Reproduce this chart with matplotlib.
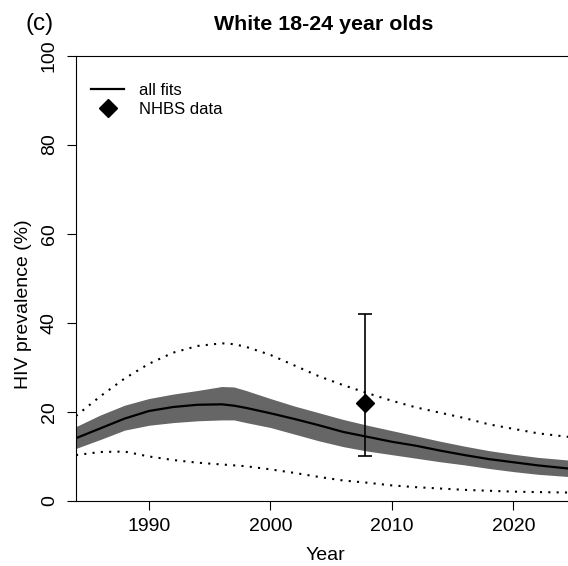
import matplotlib
matplotlib.use("Agg")
import matplotlib.pyplot as plt

plt.rcParams['font.family'] = ['Liberation Sans', 'DejaVu Sans']

years = [1984, 1986, 1988, 1990, 1992, 1994, 1996, 1997, 1998, 2000, 2002, 2004,
         2006, 2008, 2010, 2012, 2014, 2016, 2018, 2020, 2022, 2024.5]
mean_fit = [14.1, 16.3, 18.5, 20.2, 21.1, 21.6, 21.7, 21.4, 20.9, 19.7, 18.4, 17.0,
            15.5, 14.4, 13.3, 12.4, 11.3, 10.3, 9.4, 8.7, 8.0, 7.3]
band_upper = [16.7, 19.3, 21.5, 23.0, 24.0, 24.8, 25.7, 25.6, 24.8, 23.0, 21.3, 19.8,
              18.3, 17.0, 15.8, 14.6, 13.4, 12.3, 11.3, 10.5, 9.8, 9.2]
band_lower = [11.8, 13.8, 15.9, 17.0, 17.6, 18.0, 18.2, 18.2, 17.6, 16.5, 15.0, 13.5,
              12.2, 11.2, 10.4, 9.6, 8.8, 8.1, 7.3, 6.6, 6.0, 5.5]
range_upper = [19.1, 23.5, 27.5, 30.8, 33.3, 34.8, 35.4, 35.2, 34.6, 32.8, 30.4, 28.0,
               26.0, 24.2, 22.5, 21.0, 19.8, 18.6, 17.2, 16.2, 15.2, 14.4]
range_lower = [10.3, 11.0, 11.1, 10.0, 9.2, 8.6, 8.2, 8.0, 7.8, 7.1, 6.3, 5.4,
               4.6, 4.1, 3.5, 3.1, 2.8, 2.5, 2.3, 2.1, 2.0, 1.9]

data_year = [2007.8]
data_value = [22.1]
data_low = [10.1]
data_high = [42.0]

xticks = [1990, 2000, 2010, 2020]
yticks = [0, 20, 40, 60, 80, 100]

fig = plt.figure(figsize=(5.68, 5.66), dpi=100)
ax = fig.add_axes([76/568, 1 - 501/566, 1 - 76/568, (501 - 55.5)/566])

ax.fill_between(years, band_lower, band_upper, color='#666666', linewidth=0)
ax.plot(years, mean_fit, color='black', lw=1.6, label='all fits')
ax.plot(years, range_upper, color='black', lw=1.5, linestyle=(0, (1, 3)))
ax.plot(years, range_lower, color='black', lw=1.5, linestyle=(0, (1, 3)))

yerr = [[v - l for v, l in zip(data_value, data_low)],
        [h - v for v, h in zip(data_value, data_high)]]
ax.errorbar(data_year, data_value, yerr=yerr, fmt='none', ecolor='black',
            elinewidth=1.2, capsize=4.7, capthick=1.2)
ax.plot(data_year, data_value, marker='D', color='black', markersize=9.3,
        linestyle='none', label='NHBS data')

ax.set_xlim(1984, 2024.5)
ax.set_ylim(0, 100)
ax.set_xticks(xticks)
ax.set_yticks(yticks)
ax.set_yticklabels([str(t) for t in yticks], rotation=90, va='center')
ax.tick_params(axis='both', direction='out', length=6.5, width=0.8,
               labelsize=14)
ax.tick_params(axis='x', pad=6)
ax.tick_params(axis='y', pad=6.5)
for s in ['left', 'top', 'bottom']:
    ax.spines[s].set_linewidth(0.8)
ax.spines['right'].set_visible(False)

ax.set_xlabel('Year', fontsize=14)
ax.set_ylabel('HIV prevalence (%)', fontsize=14)
ax.xaxis.set_label_coords((325.7 - 76) / 492, -(560 - 501) / 445.5)
ax.xaxis.label.set_va('baseline')
ax.yaxis.set_label_coords(-(76 - 32) / 492, (501 - 304) / 445.5)

leg = ax.legend(loc='upper left', bbox_to_anchor=(0.0, 0.973), frameon=False,
                fontsize=12, handlelength=2.0, handletextpad=0.9,
                labelspacing=0.25, borderaxespad=0.5)

fig.text(324/568, 1 - 30.5/566, 'White 18-24 year olds', ha='center', va='baseline',
         fontsize=15.4, fontweight='bold')
fig.text(40/568, 1 - 24/566, '(c)', ha='center', va='center', fontsize=17.5)

fig.savefig('out.png', dpi=100)
